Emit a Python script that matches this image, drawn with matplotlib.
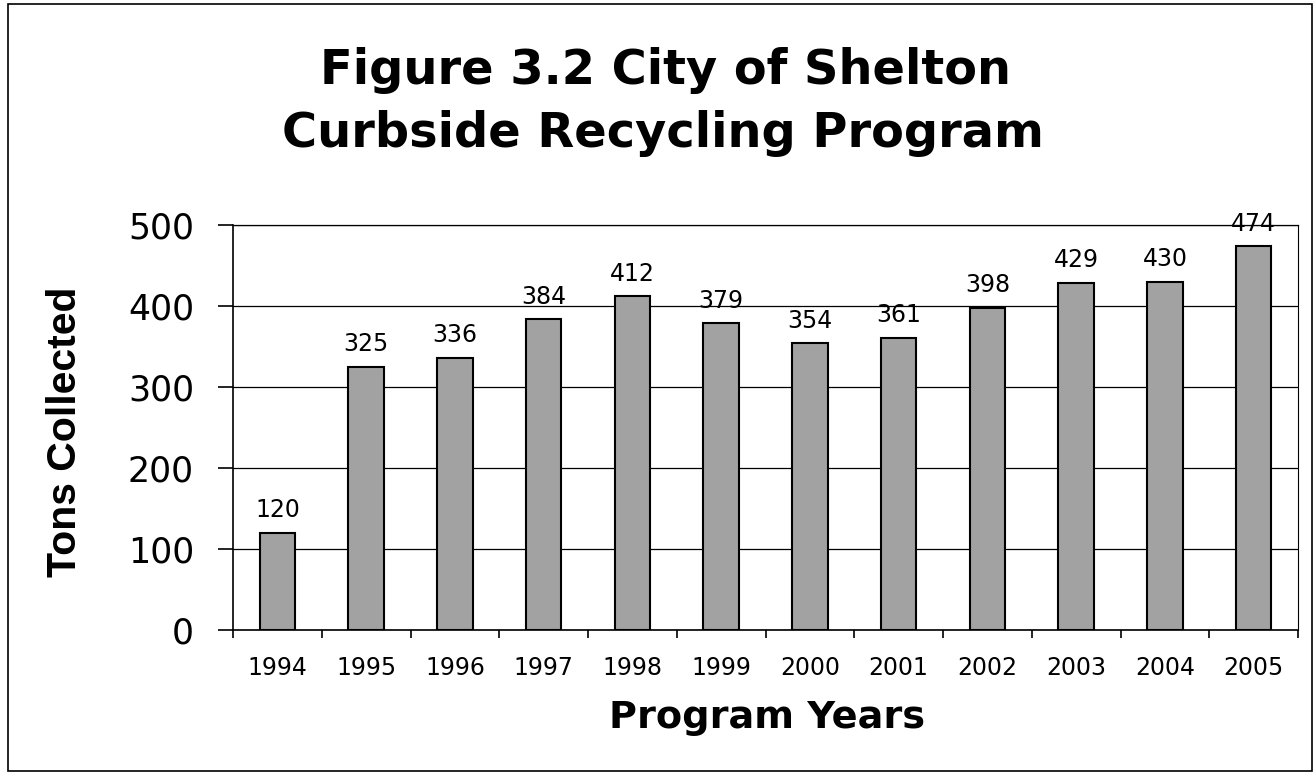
import matplotlib.pyplot as plt
from matplotlib.patches import Rectangle

years = ['1994', '1995', '1996', '1997', '1998', '1999',
         '2000', '2001', '2002', '2003', '2004', '2005']
tons = [120, 325, 336, 384, 412, 379, 354, 361, 398, 429, 430, 474]
title_lines = ['Figure 3.2 City of Shelton', 'Curbside Recycling Program']

plt.rcParams['font.family'] = ['DejaVu Sans']

W, H = 1316, 777
fig = plt.figure(figsize=(W / 100, H / 100), dpi=100)
ax = fig.add_axes([233 / W, 1 - 630 / H, 1065 / W, 405 / H])

x = range(len(years))
ax.bar(x, tons, width=0.4, color='#a2a2a2', edgecolor='black', linewidth=1.5, zorder=2)
for i, v in zip(x, tons):
    ax.annotate(str(v), (i, v), xytext=(0, 7.5), textcoords='offset points',
                ha='center', va='bottom', fontsize=17)

ax.set_xlim(-0.5, len(years) - 0.5)
ax.set_ylim(0, 500)
ax.set_yticks(range(0, 501, 100))
ax.yaxis.grid(True, color='black', linewidth=0.9)
ax.set_axisbelow(True)

ax.set_xticks(list(x))
ax.set_xticklabels(years, fontsize=17)
ax.set_xticks([i + 0.5 for i in range(-1, len(years))], minor=True)
ax.tick_params(axis='x', which='major', length=0, pad=19)
ax.tick_params(axis='x', which='minor', length=6, width=1.2, direction='out')
ax.tick_params(axis='y', labelsize=25, length=11, width=1.2, pad=17)

for s in ax.spines.values():
    s.set_linewidth(1.2)
ax.spines['right'].set_linewidth(0.8)
ax.spines['top'].set_linewidth(0.9)

# axis titles
fig.text(65 / W, 1 - 432 / H, 'Tons Collected', rotation=90, ha='center', va='center',
         fontsize=29.5, fontweight='bold', family='Liberation Sans')
fig.text(767 / W, 1 - 728 / H, 'Program Years', ha='center', va='baseline',
         fontsize=27.5, fontweight='bold')

# chart title, two lines
fig.text(666 / W, 1 - 84 / H, title_lines[0], ha='center', va='baseline',
         fontsize=34.5, fontweight='bold')
fig.text(663 / W, 1 - 147 / H, title_lines[1], ha='center', va='baseline',
         fontsize=34.5, fontweight='bold')

fig.patches.append(Rectangle((0.006, 0.008), 0.991, 0.987, transform=fig.transFigure,
                             fill=False, edgecolor='black', linewidth=1.2))

fig.savefig('out.png', dpi=100)
